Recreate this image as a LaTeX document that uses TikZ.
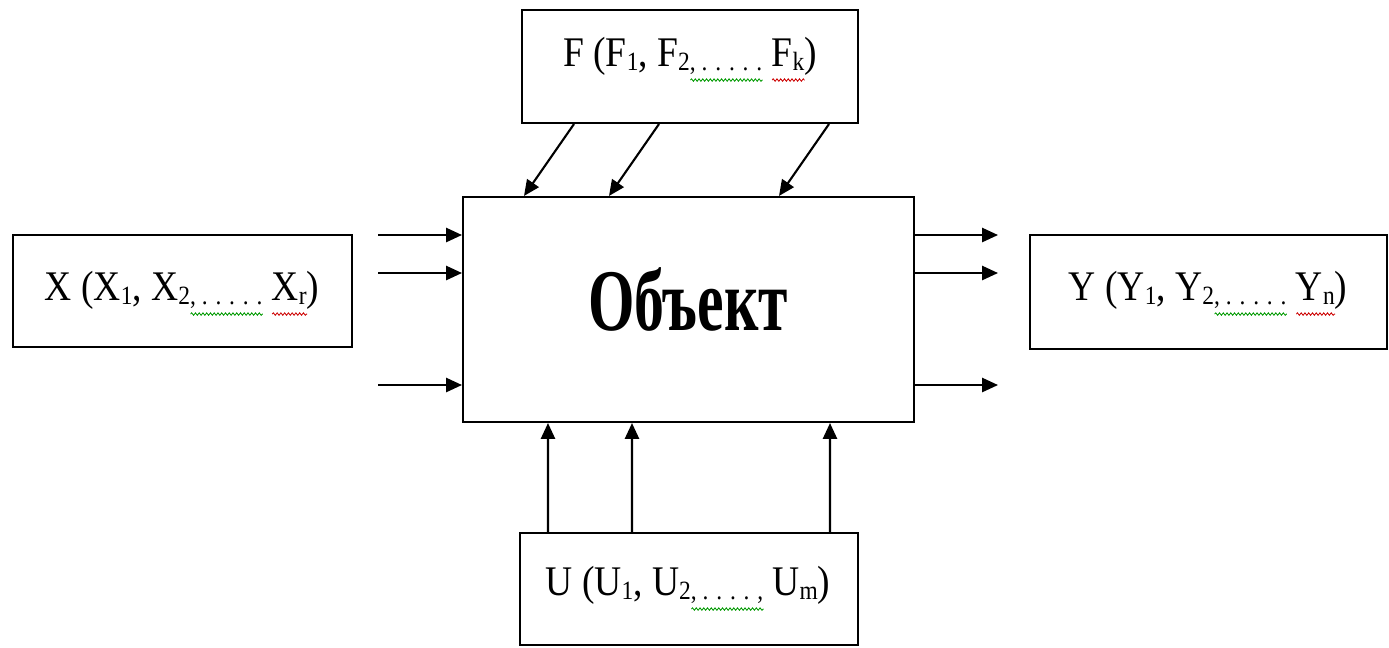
\documentclass[tikz,border=0pt]{standalone}
\usepackage{fontspec}
\setmainfont{Liberation Serif}
\usetikzlibrary{arrows.meta,calc,decorations.pathmorphing}
\newcommand{\sub}[1]{\raisebox{-0.25ex}{\fontsize{15}{15}\selectfont #1}}
\newlength\wvlen
\newcommand{\wv}[2]{\settowidth{\wvlen}{#2}\makebox[0pt][l]{\raisebox{-8pt}{\tikz[baseline=0pt]\draw[draw=#1,line width=0.5pt,decorate,decoration={snake,amplitude=0.7pt,segment length=2.4pt}] (0pt,0pt) -- (\wvlen,0pt);}}#2}
\begin{document}
\begin{tikzpicture}[x=0.02cm,y=-0.02cm,
  box/.style={draw,line width=1.2pt,inner sep=0pt},
  lbl/.style={anchor=base,inner sep=0pt,font=\fontsize{24}{28}\selectfont},
  arr/.style={line width=1.2pt,-{Triangle[length=9pt,width=8pt]}}]
\colorlet{wg}{green!60!black}
\colorlet{wr}{red!80!black}
\useasboundingbox (0,0) rectangle (1389,647);
% boxes
\node[box,minimum width=6.72cm,minimum height=2.26cm] (F) at (690,66.5) {};
\node[box,minimum width=6.78cm,minimum height=2.24cm] (X) at (182.5,291) {};
\node[box,minimum width=7.14cm,minimum height=2.28cm] (Y) at (1208.5,292) {};
\node[box,minimum width=6.76cm,minimum height=2.24cm] (U) at (689,589) {};
\node[box,minimum width=9.02cm,minimum height=4.5cm] (obj) at (688.5,309.5) {};
% labels
\node[lbl] (Ft) at (690,66) {\scalebox{0.89}[1]{F (F\sub{1}, F\sub{2}\wv{wg}{\sub{, . . . . .}} \wv{wr}{F\sub{k}})}};
\node[lbl] (Xt) at (182,300) {\scalebox{0.89}[1]{X (X\sub{1}, X\sub{2}\wv{wg}{\sub{, . . . . .}} \wv{wr}{X\sub{r}})}};
\node[lbl] (Yt) at (1208,300) {\scalebox{0.89}[1]{Y (Y\sub{1}, Y\sub{2}\wv{wg}{\sub{, . . . . .}} \wv{wr}{Y\sub{n}})}};
\node[lbl] (Ut) at (688,595) {\scalebox{0.89}[1]{U (U\sub{1}, U\sub{2}\wv{wg}{\sub{, . . . . ,}} U\sub{m})}};
\node[anchor=base,inner sep=0pt,font=\fontsize{50}{56}\selectfont\bfseries] (ot) at (688,330) {\scalebox{0.68}[1]{Объект}};
% inputs
\coordinate (i1) at (378,235);
\coordinate (i2) at (378,273);
\coordinate (i3) at (378,385);
\foreach \c in {i1,i2,i3} \draw[arr] (\c) -- (\c -| obj.west);
% outputs
\coordinate (o1) at (998,235);
\coordinate (o2) at (998,273);
\coordinate (o3) at (998,385);
\foreach \c in {o1,o2,o3} \draw[arr] (\c -| obj.east) -- (\c);
% disturbances from F
\draw[arr] ($(F.south west)+(53,0)$) -- ($(obj.north west)+(62,0)$);
\draw[arr] ($(F.south west)+(138,0)$) -- ($(obj.north west)+(147,0)$);
\draw[arr] ($(F.south west)+(308,0)$) -- ($(obj.north west)+(317,0)$);
% controls from U
\draw[arr] ($(U.north west)+(29,0)$) -- ($(obj.south west)+(86,0)$);
\draw[arr] ($(U.north west)+(113,0)$) -- ($(obj.south west)+(170,0)$);
\draw[arr] ($(U.north west)+(311,0)$) -- ($(obj.south west)+(368,0)$);
\end{tikzpicture}
\end{document}
